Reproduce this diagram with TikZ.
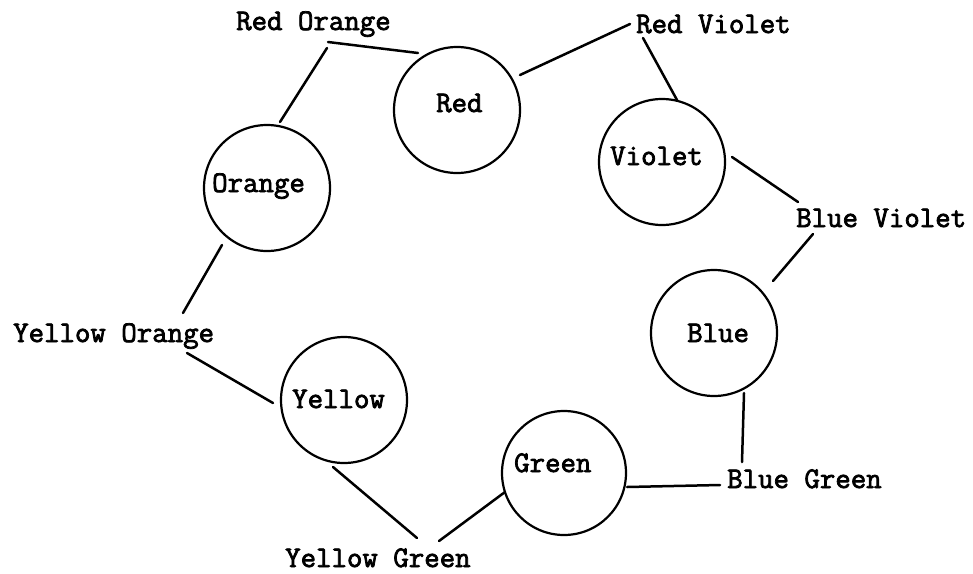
\documentclass[tikz,border=0pt]{standalone}
\usepackage{fontspec}
\newfontfamily\typewriter[FakeBold=2.5]{Latin Modern Mono}
\usetikzlibrary{calc}
\begin{document}
\begin{tikzpicture}[x=1pt,y=-1pt,
  wheel/.style={draw, circle, line width=2.2pt, minimum size=126pt, inner sep=0pt},
  hue/.style={font=\typewriter\fontsize{30}{30}\selectfont, anchor=base west, inner sep=0pt},
  link/.style={line width=2.5pt, line cap=round}]
\useasboundingbox[fill=white] (0,0) rectangle (973,573);

% the six colour circles
\node[wheel] (red)    at (457,110) {};
\node[wheel] (orange) at (267,188) {};
\node[wheel] (violet) at (662,162) {};
\node[wheel] (blue)   at (714,333) {};
\node[wheel, minimum size=124pt] (green) at (564,473) {};
\node[wheel] (yellow) at (344,400) {};

% names inside the circles
\node[hue] (redname)    at (436,112) {Red};
\node[hue] (orangename) at (212,192) {Orange};
\node[hue] (violetname) at (610,165) {Violet};
\node[hue] (bluename)   at (687,342) {Blue};
\node[hue] (greenname)  at (514,472) {Green};
\node[hue] (yellowname) at (292,408) {Yellow};

% intermediate hues
\node[hue] (ro) at (236,30)  {Red Orange};
\node[hue] (rv) at (636,33)  {Red Violet};
\node[hue] (bv) at (796,227) {Blue Violet};
\node[hue] (bg) at (727,488) {Blue Green};
\node[hue] (yg) at (285,567) {Yellow Green};
\node[hue] (yo) at (13,342)  {Yellow Orange};

% connectors around the wheel
\draw[link] ($(orange)+(13,-66)$) -- ($(ro.base west)+(91,18)$);
\draw[link] ($(ro.base west)+(92,12)$) -- ($(red)+(-39,-57)$);
\draw[link] ($(red)+(63,-35)$) -- ($(rv.base west)+(-6,-9)$);
\draw[link] ($(rv.base west)+(7,5)$) -- ($(violet)+(15,-62)$);
\draw[link] ($(violet)+(70,-5)$) -- ($(bv.base west)+(2,-25)$);
\draw[link] ($(bv.base west)+(17,7)$) -- ($(blue)+(59,-52)$);
\draw[link] ($(blue)+(30,60)$) -- ($(bg.base west)+(15,-26)$);
\draw[link] ($(bg.base west)+(-7,-3)$) -- ($(green)+(63,14)$);
\draw[link] ($(green)+(-59,19)$) -- ($(yg.base west)+(154,-26)$);
\draw[link] ($(yellow)+(-11,67)$) -- ($(yg.base west)+(132,-29)$);
\draw[link] ($(yo.base west)+(174,11)$) -- ($(yellow)+(-71,3)$);
\draw[link] ($(yo.base west)+(170,-29)$) -- ($(orange)+(-45,57)$);
\end{tikzpicture}
\end{document}
